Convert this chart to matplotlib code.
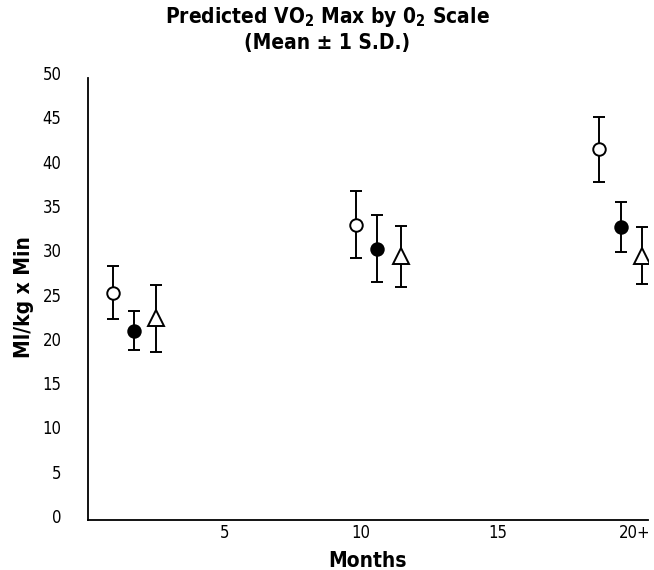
import matplotlib.pyplot as plt
import numpy as np

plt.rcParams["font.family"] = ["DejaVu Sans"]
plt.rcParams["font.stretch"] = "condensed"
plt.rcParams["mathtext.fontset"] = "custom"
plt.rcParams["mathtext.bf"] = "DejaVu Sans:weight=bold:stretch=condensed"

# months at which each group was measured (three scales side by side)
months_open = [0.9, 9.8, 18.7]
months_filled = [1.7, 10.6, 19.5]
months_tri = [2.5, 11.45, 20.3]

# predicted VO2 max, mean and 1 S.D.
mean_open = [25.2, 32.9, 41.4]
sd_open = [3.0, 3.8, 3.7]
mean_filled = [20.9, 30.2, 32.6]
sd_filled = [2.2, 3.8, 2.8]
mean_tri = [22.3, 29.3, 29.4]
sd_tri = [3.8, 3.4, 3.2]

x_ticks = [5, 10, 15, 20]
x_labels = ["5", "10", "15", "20+"]
y_ticks = np.arange(0, 51, 5)

fig = plt.figure(figsize=(6.54, 5.7), dpi=100)
ax = fig.add_axes([0.1346, 0.0877, 0.856, 0.784])

common = dict(color="black", ecolor="black", elinewidth=1.4, capsize=4.5,
              capthick=1.4, linestyle="none", markeredgewidth=1.4)
ax.errorbar(months_open, mean_open, yerr=sd_open, marker="o", markersize=9,
            markerfacecolor="white", **common)
ax.errorbar(months_filled, mean_filled, yerr=sd_filled, marker="o", markersize=9,
            markerfacecolor="black", **common)
ax.errorbar(months_tri, mean_tri, yerr=sd_tri, marker="^", markersize=11,
            markerfacecolor="white", **common)

ax.set_xlim(0, 20.5)
ax.set_ylim(-0.45, 50)
ax.spines["top"].set_visible(False)
ax.spines["right"].set_visible(False)
ax.spines["left"].set_bounds(-0.45, 49.4)
ax.spines["left"].set_linewidth(1.3)
ax.spines["bottom"].set_linewidth(1.3)

ax.set_xticks(x_ticks)
ax.set_xticklabels(x_labels)
ax.set_yticks(y_ticks)
ax.tick_params(axis="both", length=0, labelsize=12)
ax.tick_params(axis="y", pad=19)
ax.tick_params(axis="x", pad=3)

ax.set_xlabel("Months", fontsize=15, fontweight="bold", labelpad=6)
ax.set_ylabel("Ml/kg x Min", fontsize=15, fontweight="bold", labelpad=6)

fig.text(0.5, 0.97, r"Predicted VO$_\mathbf{2}$ Max by 0$_\mathbf{2}$ Scale",
         ha="center", va="center", fontsize=15, fontweight="bold")
fig.text(0.5, 0.925, "(Mean ± 1 S.D.)", ha="center", va="center",
         fontsize=15, fontweight="bold")

fig.savefig("out.png", dpi=100)
